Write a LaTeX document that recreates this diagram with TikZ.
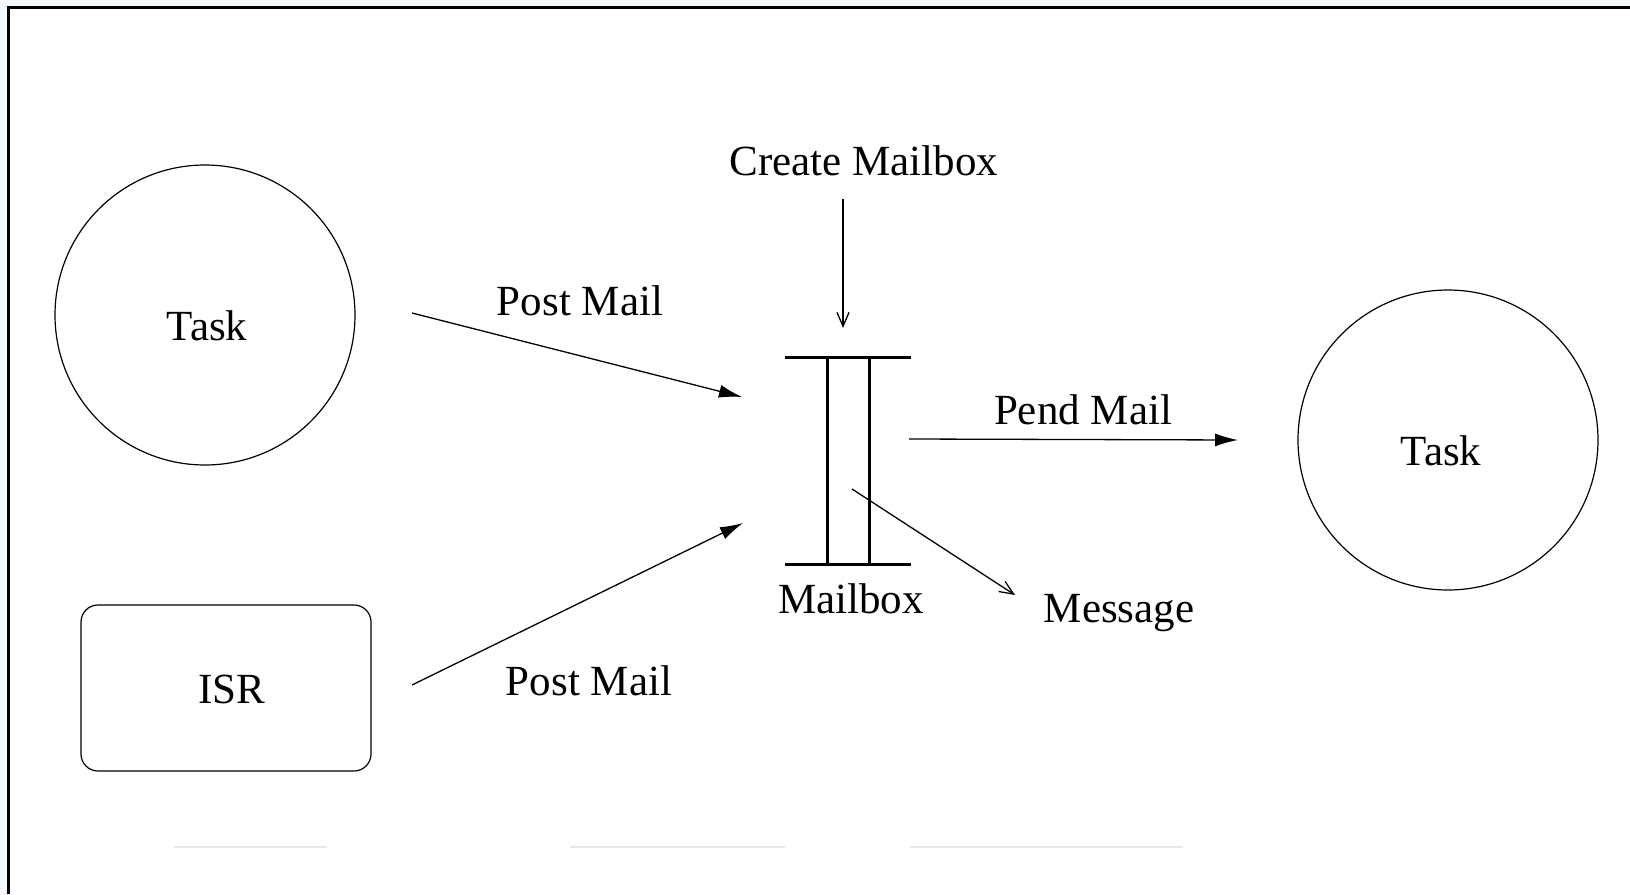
\documentclass[tikz,border=0pt]{standalone}
\usepackage{fontspec}
\setmainfont{Liberation Serif}
\usetikzlibrary{arrows.meta}
\definecolor{bgblue}{rgb}{0.96,0.98,0.995}
\begin{document}
\begin{tikzpicture}[x=1pt,y=-1pt,
  thinline/.style={line width=1.3pt},
  solidarrow/.style={thinline,-{Latex[length=23pt,width=13pt]}},
  openarrow/.style={thinline,-{Straight Barb[length=14pt,width=12pt,line width=1.3pt]}},
  boxline/.style={line width=3pt},
  lbl/.style={font=\fontsize{43}{48}\selectfont,anchor=base,inner sep=0pt},
  tasknode/.style={draw,circle,minimum size=300pt,inner sep=0pt,line width=1.2pt},
  isrnode/.style={draw,rounded corners=17pt,minimum width=290pt,minimum height=166pt,inner sep=0pt,line width=1.2pt}
]
\useasboundingbox (0,0) rectangle (1630,894);
\fill[bgblue] (0,0) rectangle (1630,894);
\fill[white] (8,7) rectangle (1630,894);
\draw[line width=3pt] (8,894) -- (8,7) -- (1630,7);
% faint marks near bottom
\draw[gray!18,line width=1.5pt] (174,847) -- (327,847) (570,847) -- (785,847) (910,847) -- (1183,847);

% nodes
\node[tasknode] (t1) at (205,315) {};
\node[lbl] (t1l) at (207,340) {Task};
\node[tasknode] (t2) at (1448,440) {};
\node[lbl] (t2l) at (1441,465) {Task};
\node[isrnode] (isr) at (226,688) {};
\node[lbl] (isrl) at (232,703) {ISR};

% mailbox
\coordinate (mb) at (848,460);
\draw[boxline] (785,357) -- (911,357);
\draw[boxline] (785,564) -- (911,564);
\draw[boxline] (827,357) -- (827,564);
\draw[boxline] (869,357) -- (869,564);
\node[lbl] (mbl) at (851,613) {Mailbox};

% labels
\node[lbl] (cm) at (864,175) {Create Mailbox};
\node[lbl] (pm1) at (580,315) {Post Mail};
\node[lbl] (pm2) at (589,695) {Post Mail};
\node[lbl] (pend) at (1083,424) {Pend Mail};
\node[lbl] (msg) at (1119,622) {Message};

% connector end points
\coordinate (a1s) at (412,313);
\coordinate (a1e) at (742,397);
\coordinate (a2s) at (412,685);
\coordinate (a2e) at (743,523);
\coordinate (pends) at (909,439);
\coordinate (pende) at (1238,440);
\coordinate (cms) at (843,199);
\coordinate (cme) at (843,328);
\coordinate (msgs) at (852,489);
\coordinate (msge) at (1015,595);

\draw[solidarrow] (a1s) -- (a1e);
\draw[solidarrow] (a2s) -- (a2e);
\draw[solidarrow] (pends) -- (pende);
\draw[openarrow] (cms) -- (cme);
\draw[openarrow] (msgs) -- (msge);
\end{tikzpicture}
\end{document}
